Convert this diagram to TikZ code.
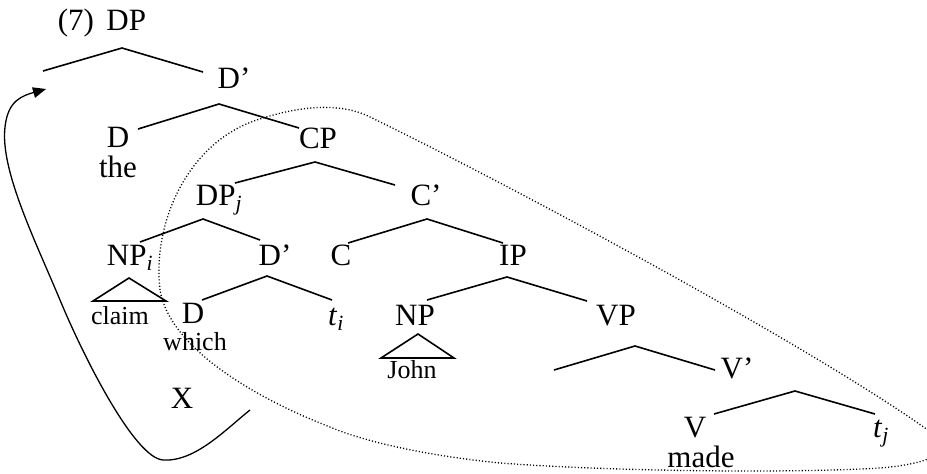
\documentclass[tikz,border=0pt]{standalone}
\usepackage{fontspec}
\setmainfont{Liberation Serif}

\tikzset{every picture/.style={line width=1.3pt}}
\tikzset{
  lbl/.style={anchor=base, inner sep=0pt, font=\fontsize{31}{31}\selectfont},
  sml/.style={anchor=base, inner sep=0pt, font=\fontsize{26}{26}\selectfont},
  branch/.style={line width=1.6pt},
  movearc/.style={line width=1.3pt, dash pattern=on 1.1pt off 2.1pt},
}

\begin{document}
\begin{tikzpicture}[x=1pt,y=1pt,yscale=-1]
  \useasboundingbox (0,0) rectangle (927,474);

  % labels
  \node (dp) at (102,30) [lbl] {(7)\hspace{0.4em}DP};
  \node (dbarA) at (234,88) [lbl] {D'};
  \node (dA) at (118,147) [lbl] {D};
  \node (the) at (118,177) [lbl] {the};
  \node (cp) at (318,148) [lbl] {CP};
  \node (dpj) at (219,205) [lbl] {DP\textsubscript{\textit{j}}};
  \node (cbar) at (426,205) [lbl] {C'};
  \node (npi) at (130,265) [lbl] {NP\textsubscript{\textit{i}}};
  \node (dbarB) at (275,265) [lbl] {D'};
  \node (c) at (341,265) [lbl] {C};
  \node (ip) at (513,265) [lbl] {IP};
  \node (claim) at (120,324) [sml] {claim};
  \node (dB) at (193,323) [lbl] {D};
  \node (which) at (195,350) [sml] {which};
  \node (ti) at (336,325) [lbl] {\textit{t}\textsubscript{\textit{i}}};
  \node (np) at (415,325) [lbl] {NP};
  \node (vp) at (616,325) [lbl] {VP};
  \node (john) at (412,378) [sml] {John};
  \node (vbar) at (737,378) [lbl] {V'};
  \node (v) at (695,437) [lbl] {V};
  \node (tj) at (881,437) [lbl] {\textit{t}\textsubscript{\textit{j}}};
  \node (made) at (701,467) [lbl] {made};
  \node (x) at (182,408) [lbl] {X};

  % branches
  \coordinate (dp-a) at (122,48);  \coordinate (dp-l) at (43,71);   \coordinate (dp-r) at (203,72);
  \coordinate (d1-a) at (219,104); \coordinate (d1-l) at (138,129); \coordinate (d1-r) at (299,128);
  \coordinate (cp-a) at (315,162); \coordinate (cp-l) at (235,183); \coordinate (cp-r) at (395,185);
  \coordinate (dj-a) at (203,219); \coordinate (dj-l) at (140,242); \coordinate (dj-r) at (260,240);
  \coordinate (cb-a) at (427,219); \coordinate (cb-l) at (348,243); \coordinate (cb-r) at (503,243);
  \coordinate (d2-a) at (267,276); \coordinate (d2-l) at (202,300); \coordinate (d2-r) at (332,300);
  \coordinate (ip-a) at (507,277); \coordinate (ip-l) at (427,300); \coordinate (ip-r) at (587,301);
  \coordinate (vp-a) at (635,346); \coordinate (vp-l) at (554,370); \coordinate (vp-r) at (715,370);
  \coordinate (vb-a) at (795,391); \coordinate (vb-l) at (714,414); \coordinate (vb-r) at (875,414);

  \foreach \b in {dp,d1,cp,dj,cb,d2,ip,vp,vb}
    \draw [branch] (\b-l) -- (\b-a) -- (\b-r);

  % triangles
  \draw [branch] (129,278) -- (93,301) -- (166,301) -- cycle;
  \draw [branch] (418,334) -- (381,358) -- (454,358) -- cycle;

  % dotted region
  \draw [movearc] (160,290) .. controls (152,220) and (190,140) .. (260,119)
    .. controls (300,106) and (340,102) .. (370,117)
    .. controls (500,180) and (800,340) .. (925,428)
    .. controls (950,445) and (950,462) .. (880,468)
    .. controls (800,473) and (620,472) .. (500,463)
    .. controls (420,455) and (360,440) .. (330,427)
    .. controls (260,400) and (170,350) .. (160,290);

  % movement arrow
  \coordinate (arrS) at (250,410);
  \coordinate (arrE) at (35,92);
  \draw (arrS) .. controls (225,430) and (195,462) .. (163,460)
    .. controls (135,458) and (85,360) .. (60,300)
    .. controls (35,240) and (0,170) .. (5,127)
    .. controls (8,100) and (22,96) .. (arrE);
  \draw [shift={(46,89)}, rotate = 164] [fill=black] [draw opacity=0] (13,-5.5) -- (0,0) -- (13,5.5) -- cycle;

\end{tikzpicture}
\end{document}
